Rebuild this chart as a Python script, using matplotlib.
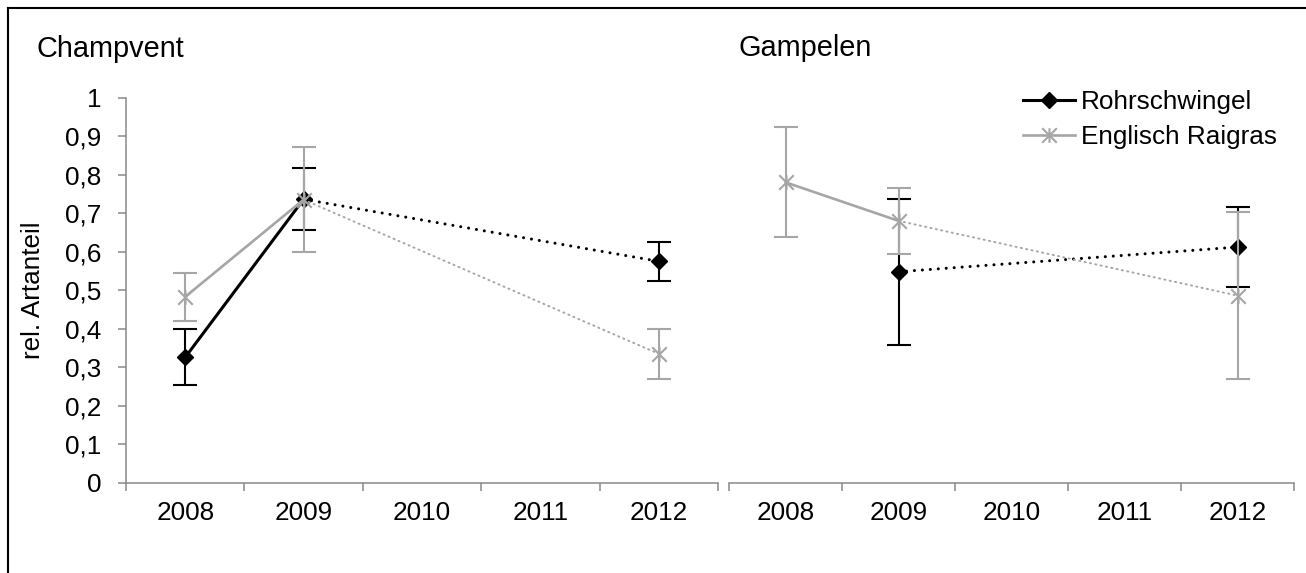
import numpy as np
import matplotlib.pyplot as plt
from matplotlib.lines import Line2D
from matplotlib.path import Path

plt.rcParams['font.family'] = ['Liberation Sans', 'DejaVu Sans']

years = ['2008', '2009', '2010', '2011', '2012']
y_ticks = [0, 0.1, 0.2, 0.3, 0.4, 0.5, 0.6, 0.7, 0.8, 0.9, 1]
y_tick_labels = ['0', '0,1', '0,2', '0,3', '0,4', '0,5', '0,6', '0,7', '0,8', '0,9', '1']

# Mittelwerte und Fehler (nan = kein Wert)
rohr_champvent = [0.326, 0.736, np.nan, np.nan, 0.575]
rohr_champvent_err = [0.073, 0.080, np.nan, np.nan, 0.050]
engl_champvent = [0.483, 0.735, np.nan, np.nan, 0.335]
engl_champvent_err = [0.063, 0.137, np.nan, np.nan, 0.065]

rohr_gampelen = [np.nan, 0.548, np.nan, np.nan, 0.612]
rohr_gampelen_err = [np.nan, 0.190, np.nan, np.nan, 0.103]
engl_gampelen = [0.780, 0.680, np.nan, np.nan, 0.486]
engl_gampelen_err = [0.143, 0.086, np.nan, np.nan, 0.217]

BLACK = '#000000'
GREY = '#a6a6a6'
AXIS = '#898989'

# Stern wie in Excel: x + senkrechter Strich
star = Path([(-1, -1), (1, 1), (-1, 1), (1, -1), (0, -1), (0, 1)],
            [Path.MOVETO, Path.LINETO, Path.MOVETO, Path.LINETO, Path.MOVETO, Path.LINETO])

style = {
    'rohr': dict(color=BLACK, marker='D', ms=8.5, mfc=BLACK, mec=BLACK, mew=1,
                 lw=2.2, dots=(0, (0.01, 2.6)), dlw=2.2, z=2),
    'engl': dict(color=GREY, marker=star, ms=10.5, mfc='none', mec=GREY, mew=1.5,
                 lw=1.9, dots=(0, (0.6, 2.2)), dlw=1.4, z=5),
}


def draw_series(ax, vals, errs, st):
    x = np.arange(len(vals))
    v = np.array(vals, float)
    e = np.array(errs, float)
    ok = ~np.isnan(v)
    ax.errorbar(x[ok], v[ok], yerr=e[ok], fmt='none', ecolor=st['color'],
                elinewidth=1.5, capsize=8.5, capthick=1.5, zorder=st['z'] - 1)
    idx = x[ok]
    for a, b in zip(idx[:-1], idx[1:]):
        if b - a == 1:
            ax.plot([a, b], [v[a], v[b]], color=st['color'], lw=st['lw'],
                    solid_capstyle='round', zorder=st['z'])
        else:
            ax.plot([a, b], [v[a], v[b]], color=st['color'], lw=st['dlw'],
                    linestyle=st['dots'], dash_capstyle='round', zorder=st['z'])
    ax.plot(x[ok], v[ok], linestyle='none', marker=st['marker'], ms=st['ms'],
            mfc=st['mfc'], mec=st['mec'], mew=st['mew'], zorder=st['z'] + 1)


fig = plt.figure(figsize=(13.06, 5.73), dpi=100)
W, H = 1306, 573
ax_l = fig.add_axes([126 / W, 1 - 483 / H, 592 / W, 385.5 / H])
ax_r = fig.add_axes([729 / W, 1 - 483 / H, 565 / W, 385.5 / H])

for ax in (ax_l, ax_r):
    ax.set_xlim(-0.5, len(years) - 0.5)
    ax.set_ylim(0, 1)
    for s in ('top', 'right'):
        ax.spines[s].set_visible(False)
    ax.spines['bottom'].set_color(AXIS)
    ax.spines['bottom'].set_linewidth(1.1)
    ax.spines['left'].set_color(AXIS)
    ax.spines['left'].set_linewidth(1.1)
    ax.set_xticks(np.arange(len(years) + 1) - 0.5)
    ax.set_xticklabels([])
    ax.set_xticks(np.arange(len(years)), minor=True)
    ax.set_xticklabels(years, minor=True, fontsize=18.8)
    ax.tick_params(axis='x', which='major', direction='out', length=5.8, width=1.1, color=AXIS)
    ax.tick_params(axis='x', which='minor', length=0, pad=13)

ax_l.set_yticks(y_ticks)
ax_l.set_yticklabels(y_tick_labels, fontsize=18.8)
ax_l.tick_params(axis='y', direction='out', length=5.8, width=1.1, color=AXIS, pad=12)

ax_r.spines['left'].set_visible(False)
ax_r.set_yticks([])

draw_series(ax_l, rohr_champvent, rohr_champvent_err, style['rohr'])
draw_series(ax_l, engl_champvent, engl_champvent_err, style['engl'])
draw_series(ax_r, rohr_gampelen, rohr_gampelen_err, style['rohr'])
draw_series(ax_r, engl_gampelen, engl_gampelen_err, style['engl'])

handles = [
    Line2D([], [], color=BLACK, lw=2.2, marker='D', ms=8.5, mfc=BLACK, mec=BLACK),
    Line2D([], [], color=GREY, lw=1.9, marker=star, ms=10.5, mfc='none', mec=GREY, mew=1.5),
]
fig.legend(handles, ['Rohrschwingel', 'Englisch Raigras'], loc='upper left',
           bbox_to_anchor=(1023 / W, 1 - 90 / H), frameon=False, fontsize=18.8,
           handlelength=2.0, handletextpad=0.22, labelspacing=0.42,
           borderpad=0, borderaxespad=0)

fig.text(37 / W, 1 - 57 / H, 'Champvent', fontsize=20.8, va='baseline', ha='left')
fig.text(738 / W, 1 - 56 / H, 'Gampelen', fontsize=20.8, va='baseline', ha='left')
fig.text(33 / W, 1 - 290 / H, 'rel. Artanteil', fontsize=18.8, rotation=90,
         ha='center', va='center')

# Rahmen
fig.add_artist(Line2D([7.5 / W, 7.5 / W], [0, 1 - 7.5 / H], color='black', lw=1.5,
                      transform=fig.transFigure))
fig.add_artist(Line2D([7.5 / W, 1], [1 - 7.5 / H, 1 - 7.5 / H], color='black', lw=1.5,
                      transform=fig.transFigure))

fig.savefig('out.png', dpi=100)
